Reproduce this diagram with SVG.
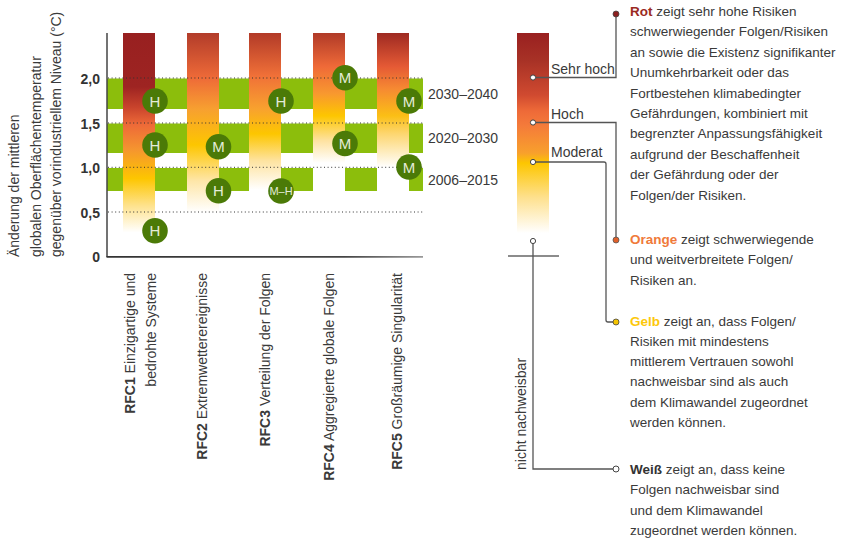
<svg xmlns="http://www.w3.org/2000/svg" width="844" height="542" viewBox="0 0 844 542">
<defs>
<style>
text{font-family:"Liberation Sans",Arial,sans-serif;fill:#3a3a3a}
.t14{font-size:14px}
.p{font-size:13.5px}
.b{font-weight:bold}
.tick{font-size:14px;font-weight:bold;text-anchor:end;fill:#333}
.band{fill:#8cbe0c}
.dot{stroke:#333;stroke-width:1;stroke-dasharray:1 2.6;fill:none}
.rc circle{fill:#4b7a07}
.rc text{font-size:15px;fill:#e4ecd8;text-anchor:middle}
.conn{fill:none;stroke:#555;stroke-width:1.3}
.ld{fill:#fff;stroke:#444;stroke-width:1}
</style>
<linearGradient id="g1" gradientUnits="userSpaceOnUse" x1="0" y1="33" x2="0" y2="257">
<stop offset="0" stop-color="#982020"/><stop offset="0.24" stop-color="#9e2422"/><stop offset="0.33" stop-color="#c8432c"/><stop offset="0.41" stop-color="#ee6a38"/><stop offset="0.52" stop-color="#f5952f"/><stop offset="0.65" stop-color="#fdc600"/><stop offset="0.77" stop-color="#fee28c"/><stop offset="0.89" stop-color="#fff"/><stop offset="1" stop-color="#fff"/>
</linearGradient>
<linearGradient id="g2" gradientUnits="userSpaceOnUse" x1="0" y1="33" x2="0" y2="257">
<stop offset="0" stop-color="#b23c2a"/><stop offset="0.2" stop-color="#ee6a38"/><stop offset="0.34" stop-color="#f7a030"/><stop offset="0.5" stop-color="#fdc600"/><stop offset="0.66" stop-color="#fee6a8"/><stop offset="0.8" stop-color="#fff"/><stop offset="1" stop-color="#fff"/>
</linearGradient>
<linearGradient id="g3" gradientUnits="userSpaceOnUse" x1="0" y1="33" x2="0" y2="257">
<stop offset="0" stop-color="#b23a28"/><stop offset="0.19" stop-color="#f07038"/><stop offset="0.34" stop-color="#f8a22e"/><stop offset="0.45" stop-color="#fdc600"/><stop offset="0.57" stop-color="#fee3a0"/><stop offset="0.7" stop-color="#fff"/><stop offset="1" stop-color="#fff"/>
</linearGradient>
<linearGradient id="g4" gradientUnits="userSpaceOnUse" x1="0" y1="33" x2="0" y2="257">
<stop offset="0" stop-color="#b03a28"/><stop offset="0.15" stop-color="#ef6a38"/><stop offset="0.27" stop-color="#f8982f"/><stop offset="0.37" stop-color="#fdc600"/><stop offset="0.48" stop-color="#fee2a0"/><stop offset="0.58" stop-color="#fff"/><stop offset="1" stop-color="#fff"/>
</linearGradient>
<linearGradient id="g5" gradientUnits="userSpaceOnUse" x1="0" y1="33" x2="0" y2="257">
<stop offset="0" stop-color="#9e2a22"/><stop offset="0.15" stop-color="#e55a35"/><stop offset="0.25" stop-color="#f68a32"/><stop offset="0.37" stop-color="#fbbf15"/><stop offset="0.45" stop-color="#fdd670"/><stop offset="0.6" stop-color="#fff"/><stop offset="1" stop-color="#fff"/>
</linearGradient>
<linearGradient id="gl" gradientUnits="userSpaceOnUse" x1="0" y1="33" x2="0" y2="233">
<stop offset="0" stop-color="#992020"/><stop offset="0.14" stop-color="#a83226"/><stop offset="0.31" stop-color="#d04a30"/><stop offset="0.39" stop-color="#ee6a38"/><stop offset="0.46" stop-color="#f47a3a"/><stop offset="0.6" stop-color="#f8a02c"/><stop offset="0.65" stop-color="#fdc600"/><stop offset="0.82" stop-color="#fee08c"/><stop offset="1" stop-color="#fff"/>
</linearGradient>
<linearGradient id="ax" gradientUnits="userSpaceOnUse" x1="107" y1="0" x2="423" y2="0">
<stop offset="0" stop-color="#333"/><stop offset="0.75" stop-color="#444"/><stop offset="1" stop-color="#999"/>
</linearGradient>
</defs>
<rect width="844" height="542" fill="#fff"/>

<g id="y-axis-title" class="t14">
<text transform="translate(19,257) rotate(-90)">Änderung der mittleren</text>
<text transform="translate(40.5,257) rotate(-90)">globalen Oberflächentemperatur</text>
<text transform="translate(61,257) rotate(-90)">gegenüber vorindustriellem Niveau (°C)</text>
</g>

<g id="ticks">
<text class="tick" x="100" y="84">2,0</text>
<text class="tick" x="100" y="128.5">1,5</text>
<text class="tick" x="100" y="172.5">1,0</text>
<text class="tick" x="100" y="217.5">0,5</text>
<text class="tick" x="100" y="262">0</text>
</g>

<g id="bands">
<rect class="band" x="107" y="78.5" width="316" height="30.5"/>
<rect class="band" x="107" y="123.5" width="316" height="29.5"/>
<rect class="band" x="107" y="168" width="316" height="23"/>
</g>

<g id="bar-rfc1"><rect x="123" y="33" width="32" height="223" fill="url(#g1)"/></g>
<g id="bar-rfc2"><rect x="187" y="33" width="32" height="223" fill="url(#g2)"/></g>
<g id="bar-rfc3"><rect x="249" y="33" width="32" height="223" fill="url(#g3)"/></g>
<g id="bar-rfc4"><rect x="313" y="33" width="32" height="223" fill="url(#g4)"/></g>
<g id="bar-rfc5"><rect x="377" y="33" width="32" height="223" fill="url(#g5)"/></g>

<g id="gridlines">
<line class="dot" x1="108" y1="78" x2="423" y2="78"/>
<line class="dot" x1="108" y1="123" x2="423" y2="123"/>
<line class="dot" x1="108" y1="167.3" x2="423" y2="167.3"/>
<line class="dot" x1="108" y1="212" x2="423" y2="212"/>
</g>

<g id="axes">
<line x1="107" y1="33" x2="107" y2="257" stroke="#444" stroke-width="1.5"/>
<line x1="106.5" y1="256.8" x2="423" y2="256.8" stroke="url(#ax)" stroke-width="1.8"/>
</g>

<g id="period-labels" class="t14">
<text x="428" y="99">2030–2040</text>
<text x="428" y="143">2020–2030</text>
<text x="428" y="184.5">2006–2015</text>
</g>

<g id="c-rfc1-a" class="rc"><circle cx="155" cy="101" r="12.8"/><text x="155" y="106.5">H</text></g>
<g id="c-rfc1-b" class="rc"><circle cx="155" cy="145" r="12.8"/><text x="155" y="150.5">H</text></g>
<g id="c-rfc1-c" class="rc"><circle cx="155" cy="230.7" r="12.8"/><text x="155" y="236.2">H</text></g>
<g id="c-rfc2-a" class="rc"><circle cx="218.5" cy="146.7" r="12.8"/><text x="218.5" y="152.2">M</text></g>
<g id="c-rfc2-b" class="rc"><circle cx="218.5" cy="190.7" r="12.8"/><text x="218.5" y="196.2">H</text></g>
<g id="c-rfc3-a" class="rc"><circle cx="281" cy="101" r="12.8"/><text x="281" y="106.5">H</text></g>
<g id="c-rfc3-b" class="rc"><circle cx="281" cy="191" r="12.8"/><text x="281" y="195" style="font-size:11px">M–H</text></g>
<g id="c-rfc4-a" class="rc"><circle cx="345" cy="77.7" r="12.8"/><text x="345" y="83.2">M</text></g>
<g id="c-rfc4-b" class="rc"><circle cx="345" cy="143.5" r="12.8"/><text x="345" y="149">M</text></g>
<g id="c-rfc5-a" class="rc"><circle cx="409" cy="101" r="12.8"/><text x="409" y="106.5">M</text></g>
<g id="c-rfc5-b" class="rc"><circle cx="409" cy="167" r="12.8"/><text x="409" y="172.5">M</text></g>

<g id="rfc-labels" class="t14">
<text transform="translate(135,273) rotate(-90)" text-anchor="end"><tspan class="b">RFC1</tspan> Einzigartige und</text>
<text transform="translate(155.5,273) rotate(-90)" text-anchor="end">bedrohte Systeme</text>
<text transform="translate(206.5,273) rotate(-90)" text-anchor="end"><tspan class="b">RFC2</tspan> Extremwetterereignisse</text>
<text transform="translate(270,273) rotate(-90)" text-anchor="end"><tspan class="b">RFC3</tspan> Verteilung der Folgen</text>
<text transform="translate(334,273) rotate(-90)" text-anchor="end"><tspan class="b">RFC4</tspan> Aggregierte globale Folgen</text>
<text transform="translate(401.5,273) rotate(-90)" text-anchor="end"><tspan class="b">RFC5</tspan> Großräumige Singularität</text>
</g>

<g id="legend-bar">
<rect x="517" y="33" width="32" height="200" fill="url(#gl)"/>
<line x1="508" y1="256" x2="559" y2="256" stroke="#666" stroke-width="1.3"/>
</g>

<g id="connectors">
<polyline class="conn" points="533,77.5 616,77.5 616,14"/>
<polyline class="conn" points="533,122.5 616,122.5 616,240"/>
<path class="conn" d="M533,162 H604 Q606,162 606,164 V320 Q606,322 608,322 H616"/>
<polyline class="conn" points="533,241 533,469 616,469"/>
</g>

<g id="legend-dots">
<circle class="ld" cx="533" cy="77.5" r="2.6"/>
<circle class="ld" cx="533" cy="122.5" r="2.6"/>
<circle class="ld" cx="533" cy="162" r="2.6"/>
<circle class="ld" cx="533" cy="241" r="2.6"/>
<circle cx="616" cy="14" r="3" fill="#8b2020" stroke="#444" stroke-width="0.8"/>
<circle cx="616" cy="240" r="3" fill="#e0602a" stroke="#555" stroke-width="0.8"/>
<circle cx="616" cy="322" r="3" fill="#f5c400" stroke="#444" stroke-width="0.8"/>
<circle cx="616" cy="469" r="3" fill="#fff" stroke="#444" stroke-width="1"/>
</g>

<g id="legend-labels" class="t14">
<text x="551" y="73.5">Sehr hoch</text>
<text x="551" y="119">Hoch</text>
<text x="551" y="157">Moderat</text>
<text transform="translate(526,470) rotate(-90)">nicht nachweisbar</text>
</g>

<g id="text-rot" class="p">
<text x="630" y="16"><tspan class="b" fill="#9b2a22">Rot</tspan> zeigt sehr hohe Risiken</text>
<text x="630" y="36.4">schwerwiegender Folgen/Risiken</text>
<text x="630" y="56.8">an sowie die Existenz signifikanter</text>
<text x="630" y="77.2">Unumkehrbarkeit oder das</text>
<text x="630" y="97.6">Fortbestehen klimabedingter</text>
<text x="630" y="118">Gefährdungen, kombiniert mit</text>
<text x="630" y="138.4">begrenzter Anpassungsfähigkeit</text>
<text x="630" y="158.8">aufgrund der Beschaffenheit</text>
<text x="630" y="179.2">der Gefährdung oder der</text>
<text x="630" y="199.6">Folgen/der Risiken.</text>
</g>

<g id="text-orange" class="p">
<text x="630" y="243.5"><tspan class="b" fill="#f07a3a">Orange</tspan> zeigt schwerwiegende</text>
<text x="630" y="264">und weitverbreitete Folgen/</text>
<text x="630" y="284.5">Risiken an.</text>
</g>

<g id="text-gelb" class="p">
<text x="630" y="325.5"><tspan class="b" fill="#fdc80a">Gelb</tspan> zeigt an, dass Folgen/</text>
<text x="630" y="345.8">Risiken mit mindestens</text>
<text x="630" y="366.1">mittlerem Vertrauen sowohl</text>
<text x="630" y="386.4">nachweisbar sind als auch</text>
<text x="630" y="406.7">dem Klimawandel zugeordnet</text>
<text x="630" y="427">werden können.</text>
</g>

<g id="text-weiss" class="p">
<text x="630" y="474"><tspan class="b" fill="#333">Weiß</tspan> zeigt an, dass keine</text>
<text x="630" y="494.3">Folgen nachweisbar sind</text>
<text x="630" y="514.6">und dem Klimawandel</text>
<text x="630" y="534.9">zugeordnet werden können.</text>
</g>
</svg>
